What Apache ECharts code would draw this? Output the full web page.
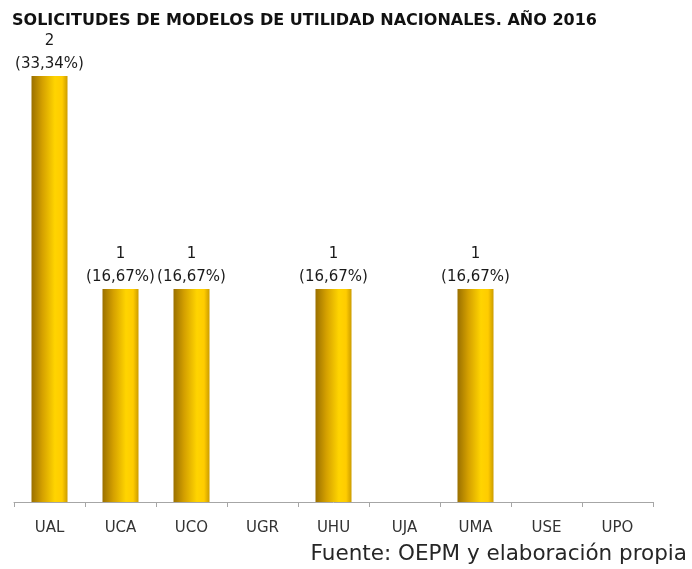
<!DOCTYPE html>
<html>
<head>
<meta charset="utf-8">
<script src="https://cdn.jsdelivr.net/npm/echarts@6/dist/echarts.min.js"></script>
<style>
  html, body { margin: 0; padding: 0; background: #fff; }
  #chart { width: 692px; height: 569px; }
</style>
</head>
<body>
<div id="chart"></div>
<script>
var universidades = ['UAL', 'UCA', 'UCO', 'UGR', 'UHU', 'UJA', 'UMA', 'USE', 'UPO'];
var solicitudes = [2, 1, 1, 0, 1, 0, 1, 0, 0];
var porcentajes = ['33,34%', '16,67%', '16,67%', '0%', '16,67%', '0%', '16,67%', '0%', '0%'];

var myChart = echarts.init(document.getElementById('chart'));

// dorado con brillo, de izquierda a derecha
var barColor = new echarts.graphic.LinearGradient(0, 0, 1, 0, [
    { offset: 0, color: '#9a7000' },
    { offset: 0.3, color: '#d4a000' },
    { offset: 0.65, color: '#ffd400' },
    { offset: 0.85, color: '#ffcc00' },
    { offset: 1, color: '#cc9c00' }
]);

option = {
    backgroundColor: '#fff',
    title: {
        text: 'SOLICITUDES DE MODELOS DE UTILIDAD NACIONALES. AÑO 2016',
        left: 12,
        top: 13,
        padding: 0,
        textStyle: {
            fontFamily: 'DejaVu Sans',
            fontWeight: 'bold',
            fontSize: 16,
            lineHeight: 16,
            color: '#111'
        }
    },
    graphic: [
        {
            type: 'text',
            right: 5,
            top: 543,
            style: {
                text: 'Fuente: OEPM y elaboración propia',
                font: '21.5px "DejaVu Sans"',
                fill: '#262626'
            }
        }
    ],
    grid: {
        left: 14,
        right: 39,
        top: 76,
        bottom: 67
    },
    xAxis: {
        type: 'category',
        data: universidades,
        axisLine: { lineStyle: { color: '#a6a6a6', width: 1 } },
        axisTick: { show: true, length: 5, lineStyle: { color: '#a6a6a6' } },
        axisLabel: {
            margin: 19,
            fontFamily: 'DejaVu Sans',
            fontSize: 15,
            color: '#333'
        }
    },
    yAxis: {
        type: 'value',
        min: 0,
        max: 2,
        show: false
    },
    series: [
        {
            type: 'bar',
            data: solicitudes,
            barWidth: 36,
            itemStyle: { color: barColor },
            label: {
                show: true,
                position: 'top',
                distance: 0,
                fontFamily: 'DejaVu Sans',
                fontSize: 15,
                lineHeight: 23,
                color: '#1a1a1a',
                formatter: function (p) {
                    if (!p.value) return '';
                    return p.value + '\n(' + porcentajes[p.dataIndex] + ')';
                }
            }
        }
    ]
};
myChart.setOption(option);
</script>
</body>
</html>
